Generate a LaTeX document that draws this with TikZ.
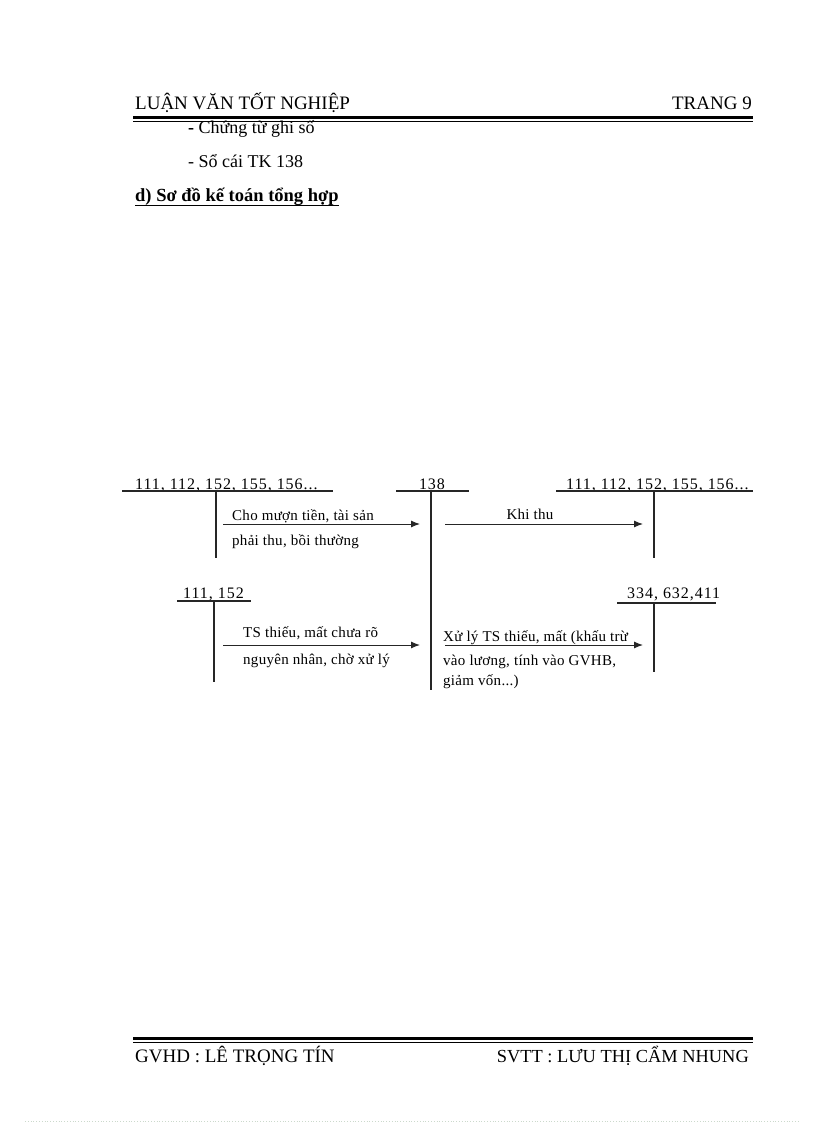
\documentclass[tikz,border=0pt]{standalone}
\usepackage{fontspec}
\setmainfont{Liberation Serif}
\usetikzlibrary{arrows.meta}
\begin{document}
\begin{tikzpicture}[x=1pt,y=-1pt,
  hdr/.style={font=\fontsize{19}{22}\selectfont, inner sep=0},
  body/.style={font=\fontsize{18}{21}\selectfont, inner sep=0, anchor=base west},
  tline/.style={line width=1.2pt, black!85},
  arr/.style={line width=1pt, black!85, -{Latex[length=9pt,width=7pt]}},
  acct/.style={font=\fontsize{16}{18}\selectfont\addfontfeature{LetterSpace=6}, inner sep=0, anchor=base west},
  lbl/.style={font=\fontsize{15}{17}\selectfont\addfontfeature{LetterSpace=2}, inner sep=0, anchor=base west},
  rulethick/.style={line width=3pt},
  rulethin/.style={line width=1pt}
]
\useasboundingbox (0,0) rectangle (816,1123);

% header
\node[hdr, anchor=base west] (title) at (135,110) {LUẬN VĂN TỐT NGHIỆP};
\node[hdr, anchor=base east] (page) at (752,110) {TRANG 9};
\coordinate (hl) at (133,118); \coordinate (hr) at (753,118);
\coordinate (hl2) at (133,122); \coordinate (hr2) at (753,122);
\draw[rulethick] (hl) -- (hr);
\draw[rulethin] (hl2) -- (hr2);

% body
\node[body] (b1) at (188,134) {\textbf{-} Chứng từ ghi số};
\node[body] (b2) at (188,168) {- Sổ cái TK 138};
\node[body, font=\fontsize{18.5}{21}\selectfont\bfseries] (b3) at (135,202) {d) Sơ đồ kế toán tổng hợp};
\draw[line width=1pt] ([yshift=-4pt]b3.base west) -- ([yshift=-4pt]b3.base east);

% T-account A (top left)
\node[acct] (accA) at (135,489) {111, 112, 152, 155, 156...};
\coordinate (Al) at (122,491); \coordinate (Ar) at (333,491);
\coordinate (At) at (216,491); \coordinate (Ab) at (216,558);
\draw[tline] (Al) -- (Ar); \draw[tline] (At) -- (Ab);

% T-account 138
\node[acct, anchor=base] (acc138) at (432,489) {138};
\coordinate (Bl) at (396,491); \coordinate (Br) at (469,491);
\coordinate (Bt) at (431,491); \coordinate (Bb) at (431,690);
\draw[tline] (Bl) -- (Br); \draw[tline] (Bt) -- (Bb);

% T-account C (top right)
\node[acct] (accC) at (566,489) {111, 112, 152, 155, 156...};
\coordinate (Cl) at (556,491); \coordinate (Cr) at (753,491);
\coordinate (Ct) at (654,491); \coordinate (Cb) at (654,558);
\draw[tline] (Cl) -- (Cr); \draw[tline] (Ct) -- (Cb);

% T-account D (111, 152)
\node[acct] (accD) at (183,598) {111, 152};
\coordinate (Dl) at (177,601); \coordinate (Dr) at (251,601);
\coordinate (Dt) at (214,601); \coordinate (Db) at (214,682);
\draw[tline] (Dl) -- (Dr); \draw[tline] (Dt) -- (Db);

% T-account E (334, 632, 411)
\node[acct] (accE) at (627,598) {334, 632,411};
\coordinate (El) at (617,603); \coordinate (Er) at (716,603);
\coordinate (Et) at (654,603); \coordinate (Eb) at (654,672);
\draw[tline] (El) -- (Er); \draw[tline] (Et) -- (Eb);

% arrows
\coordinate (a1s) at (223,524); \coordinate (a1e) at (420,524);
\coordinate (a2s) at (445,524); \coordinate (a2e) at (643,524);
\coordinate (a3s) at (223,645); \coordinate (a3e) at (420,645);
\coordinate (a4s) at (445,645); \coordinate (a4e) at (643,645);
\draw[arr] (a1s) -- (a1e);
\draw[arr] (a2s) -- (a2e);
\draw[arr] (a3s) -- (a3e);
\draw[arr] (a4s) -- (a4e);

% arrow labels
\node[lbl] (l1a) at (232,520) {Cho mượn tiền, tài sản};
\node[lbl] (l1b) at (232,545) {phải thu, bồi thường};
\node[lbl, anchor=base] (l2) at (530,519) {Khi thu};
\node[lbl] (l3a) at (243,637) {TS thiếu, mất chưa rõ};
\node[lbl] (l3b) at (243,664) {nguyên nhân, chờ xử lý};
\node[lbl] (l4a) at (443,641) {Xử lý TS thiếu, mất (khấu trừ};
\node[lbl] (l4b) at (443,665) {vào lương, tính vào GVHB,};
\node[lbl] (l4c) at (443,685) {giảm vốn...)};

% footer
\coordinate (fl) at (133,1038); \coordinate (fr) at (753,1038);
\coordinate (fl2) at (133,1042); \coordinate (fr2) at (753,1042);
\draw[rulethick] (fl) -- (fr);
\draw[rulethin] (fl2) -- (fr2);
\node[hdr, anchor=base west] (gvhd) at (135,1062) {GVHD : LÊ TRỌNG TÍN};
\node[hdr, anchor=base east, font=\fontsize{18.4}{22}\selectfont] (svtt) at (749,1062) {SVTT : LƯU THỊ CẨM NHUNG};

% faint page edge
\coordinate (dl) at (25,1121.5); \coordinate (dr) at (800,1121.5);
\draw[green!25!black!20, dotted, line width=0.8pt] (dl) -- (dr);
\end{tikzpicture}
\end{document}
